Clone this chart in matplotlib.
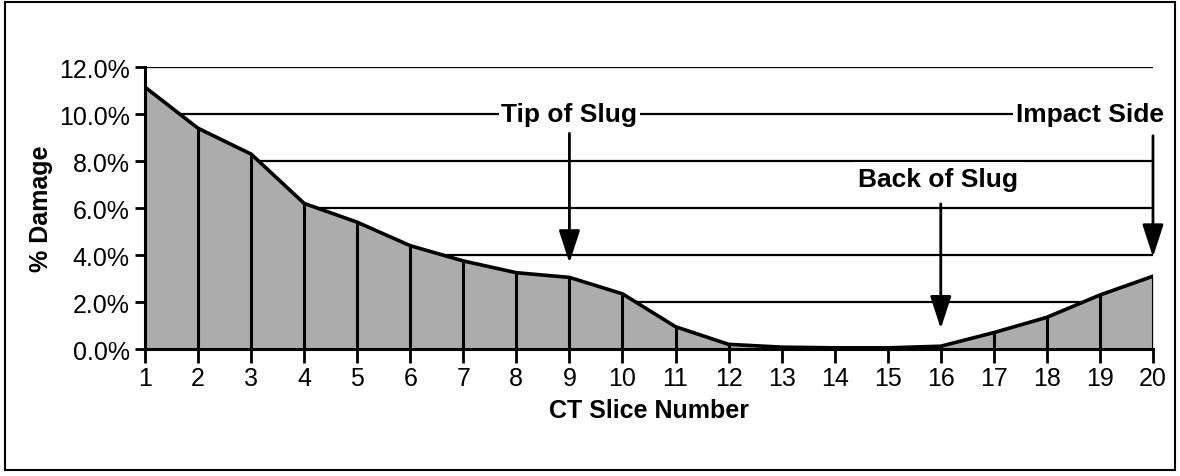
import matplotlib.pyplot as plt
from matplotlib.patches import Rectangle
from matplotlib.ticker import FuncFormatter

plt.rcParams['font.family'] = ['Liberation Sans', 'DejaVu Sans']

slices = list(range(1, 21))
damage = [11.15, 9.4, 8.3, 6.2, 5.4, 4.4, 3.75, 3.25, 3.05, 2.35,
          0.95, 0.2, 0.08, 0.05, 0.05, 0.12, 0.7, 1.35, 2.3, 3.1]
yticks = [0, 2, 4, 6, 8, 10, 12]

fig = plt.figure(figsize=(11.8, 4.77), dpi=100)
ax = fig.add_axes([0.1229, 0.2662, 0.8542, 0.5908])

# gridlines behind the fill
for y in yticks[1:]:
    ax.axhline(y, color='black', lw=1.6, zorder=1)

ax.fill_between(slices, damage, 0, color='#acacac', lw=0, zorder=2)
ax.vlines(slices, 0, damage, color='black', lw=2.2, zorder=3)
ax.plot(slices, damage, color='black', lw=2.6, zorder=4)

ax.set_xlim(1, 20)
ax.set_ylim(0, 12)
ax.set_xticks(slices)
ax.set_yticks(yticks)
ax.yaxis.set_major_formatter(FuncFormatter(lambda v, p: f'{v:.1f}%'))
ax.tick_params(axis='x', direction='out', length=10, width=2, labelsize=18, pad=2)
ax.tick_params(axis='y', direction='out', length=7, width=2, labelsize=18, pad=4)
for s in ['top', 'right']:
    ax.spines[s].set_visible(False)
for s in ['left', 'bottom']:
    ax.spines[s].set_linewidth(2.2)
ax.spines['bottom'].set_zorder(5)

ax.set_xlabel('CT Slice Number', fontsize=18, fontweight='bold', labelpad=6)
ax.set_ylabel('% Damage', fontsize=18, fontweight='bold', labelpad=4)

# annotations
arrow = dict(arrowstyle='-|>,head_width=0.65,head_length=2.0', color='black', lw=2)
box = dict(facecolor='white', edgecolor='none', pad=1.5)
ax.text(9, 10, 'Tip of Slug', ha='center', va='center', fontsize=19,
        fontweight='bold', bbox=box, zorder=6)
ax.annotate('', xy=(9, 3.55), xytext=(9, 9.3), arrowprops=arrow, zorder=6)

ax.text(15.95, 7.25, 'Back of Slug', ha='center', va='center', fontsize=19,
        fontweight='bold', bbox=dict(facecolor='white', edgecolor='none', pad=3.5), zorder=6)
ax.annotate('', xy=(16, 0.75), xytext=(16, 6.3), arrowprops=arrow, zorder=6)

ax.text(20.2, 10, 'Impact Side', ha='right', va='center', fontsize=19,
        fontweight='bold', bbox=box, zorder=6, clip_on=False)
ax.annotate('', xy=(20, 3.8), xytext=(20, 9.2), arrowprops=arrow, zorder=6)

# outer frame
fig.patches.append(Rectangle((0.004, 0.012), 0.992, 0.982, transform=fig.transFigure,
                             fill=False, edgecolor='black', lw=1.5))

fig.savefig('out.png', dpi=100)
